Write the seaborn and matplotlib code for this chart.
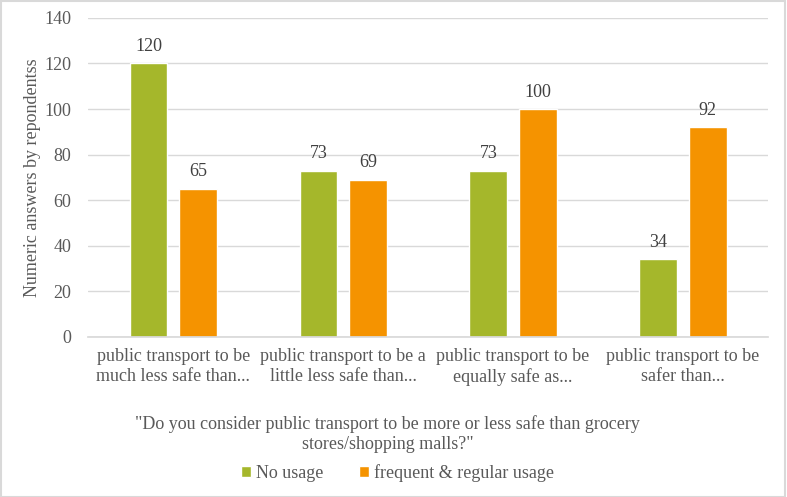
import numpy as np
import pandas as pd
import matplotlib
matplotlib.use("Agg")
import matplotlib.pyplot as plt
import seaborn as sns

categories = ["public transport to be\nmuch less safe than...",
              "public transport to be a\nlittle less safe than...",
              "public transport to be\nequally safe as...",
              "public transport to be\nsafer than..."]
groups = ["No usage", "frequent & regular usage"]
no_usage = [120, 73, 73, 34]
frequent = [65, 69, 100, 92]
colors = ["#A5B72B", "#F59300"]

df = pd.DataFrame({"category": categories * 2,
                   "group": [groups[0]] * 4 + [groups[1]] * 4,
                   "value": no_usage + frequent})

sns.set_theme(style="white")
plt.rcParams['font.family'] = ['Liberation Serif', 'DejaVu Serif']
textColor = "#595959"
fs = 13

fig = plt.figure(figsize=(7.87, 4.97), dpi=100)
ax = fig.add_axes([0.112, 0.322, 0.864, 0.642])
sns.barplot(data=df, x="category", y="value", hue="group", palette=colors,
            width=0.58, gap=0.23, saturation=1, ax=ax, legend=True)

for cont in ax.containers:
    ax.bar_label(cont, fontsize=fs, color="#404040", padding=6)

ax.set_ylim(0, 140)
ax.set_yticks(range(0, 141, 20))
ax.grid(axis="y", color="#D9D9D9", linewidth=1)
ax.set_axisbelow(True)
for s in ["top", "right", "left"]:
    ax.spines[s].set_visible(False)
ax.spines["bottom"].set_color("#D9D9D9")
ax.tick_params(axis="y", length=0, labelsize=fs, colors=textColor, pad=12)
ax.tick_params(axis="x", length=0, labelsize=fs, colors=textColor, pad=8)
ax.set_xlabel('"Do you consider public transport to be more or less safe than grocery\nstores/shopping malls?"',
              fontsize=fs, color=textColor)
ax.xaxis.set_label_coords(0.44, -0.245)
ax.set_ylabel("Numeric answers by repondentss", fontsize=fs, color=textColor)
ax.yaxis.set_label_coords(-0.07, 0.5)

ax.legend(loc="center", bbox_to_anchor=(0.455, -0.425), ncol=2, frameon=False,
          prop={"family": ["Liberation Serif"], "size": fs}, labelcolor=textColor,
          handlelength=0.55, handleheight=0.55, columnspacing=2.0, handletextpad=0.25)

fig.patches.append(plt.Rectangle((0.001, 0.001), 0.997, 0.997, transform=fig.transFigure,
                                 fill=False, edgecolor="#D9D9D9", linewidth=1.5))
fig.savefig("out.png", dpi=100, facecolor="white")
